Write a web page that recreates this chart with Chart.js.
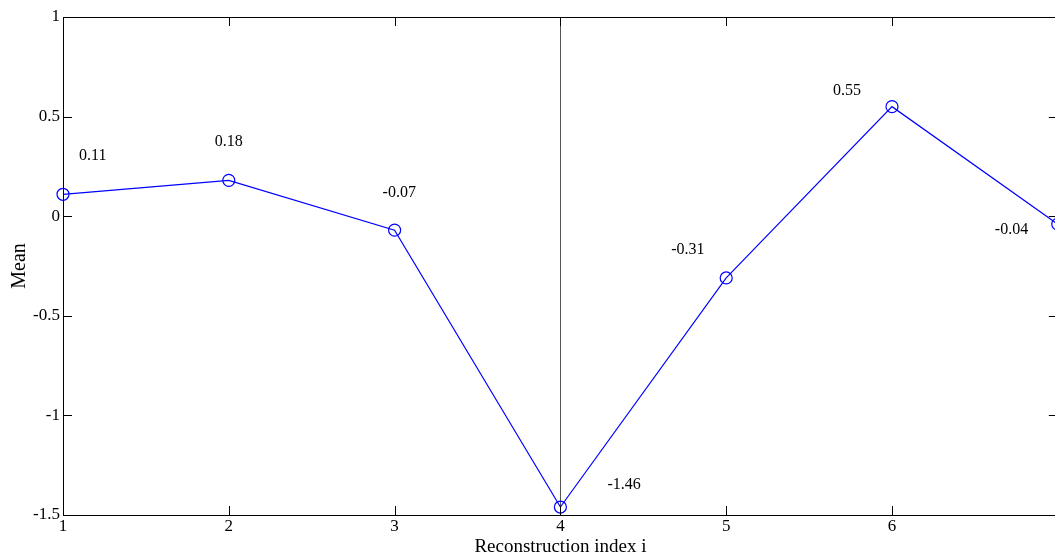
<!DOCTYPE html>
<html>
<head>
<meta charset="utf-8">
<script src="https://cdn.jsdelivr.net/npm/chart.js@4/dist/chart.umd.min.js"></script>
<style>
  html, body { margin: 0; padding: 0; background: #fff; overflow: hidden; }
  #wrap { width: 1065px; height: 553px; }
</style>
</head>
<body>
<div id="wrap"><canvas id="mean-chart" width="1065" height="553"></canvas></div>
<script>
const indices = [1, 2, 3, 4, 5, 6, 7];
const means = [0.11, 0.18, -0.07, -1.46, -0.31, 0.55, -0.04];
const meanLabels = ['0.11', '0.18', '-0.07', '-1.46', '-0.31', '0.55', '-0.04'];
const markerIndex = 4; // vertical line
const lastVisibleTick = 6; // label 7 falls outside the picture

// where each value text sits relative to its point (px)
const labelOffsets = [[16, -38], [-14, -39], [-12, -37], [47, -22], [-55, -28], [-59, -16], [-63, 6]];

const serif = 'Liberation Serif';

const boxPlugin = {
    id: 'matlabBox',
    beforeDatasetsDraw(chart) {
        const ctx = chart.ctx;
        const a = chart.chartArea;
        const x = Math.round(chart.scales.x.getPixelForValue(markerIndex)) + 0.5;
        ctx.save();
        ctx.strokeStyle = '#555';
        ctx.lineWidth = 1;
        ctx.beginPath();
        ctx.moveTo(x, a.top);
        ctx.lineTo(x, a.bottom);
        ctx.stroke();
        ctx.restore();
    },
    afterDatasetsDraw(chart) {
        const ctx = chart.ctx;
        const a = chart.chartArea;
        const xs = chart.scales.x, ys = chart.scales.y;
        const tick = 9;
        ctx.save();
        ctx.strokeStyle = '#000';
        ctx.lineWidth = 1;
        ctx.strokeRect(a.left + 0.5, a.top + 0.5, a.right - a.left, a.bottom - a.top);
        ctx.beginPath();
        xs.ticks.forEach(t => {
            const px = Math.round(xs.getPixelForValue(t.value)) + 0.5;
            ctx.moveTo(px, a.bottom);
            ctx.lineTo(px, a.bottom - tick);
            ctx.moveTo(px, a.top);
            ctx.lineTo(px, a.top + tick);
        });
        ys.ticks.forEach(t => {
            const py = Math.round(ys.getPixelForValue(t.value)) + 0.5;
            ctx.moveTo(a.left, py);
            ctx.lineTo(a.left + tick, py);
            ctx.moveTo(a.right, py);
            ctx.lineTo(a.right - tick, py);
        });
        ctx.stroke();

        // value labels
        ctx.fillStyle = '#000';
        ctx.font = '16px "' + serif + '"';
        ctx.textAlign = 'left';
        ctx.textBaseline = 'middle';
        means.forEach((v, i) => {
            const px = xs.getPixelForValue(indices[i]);
            const py = ys.getPixelForValue(v);
            ctx.fillText(meanLabels[i], px + labelOffsets[i][0], py + labelOffsets[i][1]);
        });
        ctx.restore();
    }
};

const ctx = document.getElementById('mean-chart').getContext('2d');
const chart = new Chart(ctx, {
    type: 'line',
    data: {
        datasets: [{
            data: indices.map((x, i) => ({ x: x, y: means[i] })),
            borderColor: '#0000ff',
            borderWidth: 1.2,
            pointRadius: 6,
            pointStyle: 'circle',
            pointBackgroundColor: 'rgba(0,0,0,0)',
            pointBorderColor: '#0000ff',
            pointBorderWidth: 1.2,
            tension: 0,
            clip: false
        }]
    },
    options: {
        responsive: false,
        animation: false,
        events: [],
        layout: { padding: { top: 17, right: 6, left: 0, bottom: 0 } },
        plugins: { legend: { display: false }, tooltip: { enabled: false } },
        scales: {
            x: {
                type: 'linear',
                min: 1,
                max: 7,
                grid: { display: false, drawTicks: false },
                border: { display: false },
                ticks: {
                    stepSize: 1,
                    color: '#000',
                    padding: 1,
                    maxRotation: 0,
                    font: { family: serif, size: 17 },
                    callback: v => (v > lastVisibleTick ? '' : String(v))
                },
                title: {
                    display: true,
                    text: 'Reconstruction index i',
                    color: '#000',
                    padding: -5,
                    font: { family: serif, size: 19 }
                },
                afterFit(scale) { scale.height = 38; }
            },
            y: {
                min: -1.5,
                max: 1,
                grid: { display: false, drawTicks: false },
                border: { display: false },
                ticks: {
                    stepSize: 0.5,
                    color: '#000',
                    padding: 3,
                    font: { family: serif, size: 17 },
                    callback: v => String(v)
                },
                title: {
                    display: true,
                    text: 'Mean',
                    color: '#000',
                    padding: { top: 8, bottom: 0 },
                    font: { family: serif, size: 20 }
                },
                afterFit(scale) { scale.width = 63; }
            }
        }
    },
    plugins: [boxPlugin]
});
</script>
</body>
</html>
